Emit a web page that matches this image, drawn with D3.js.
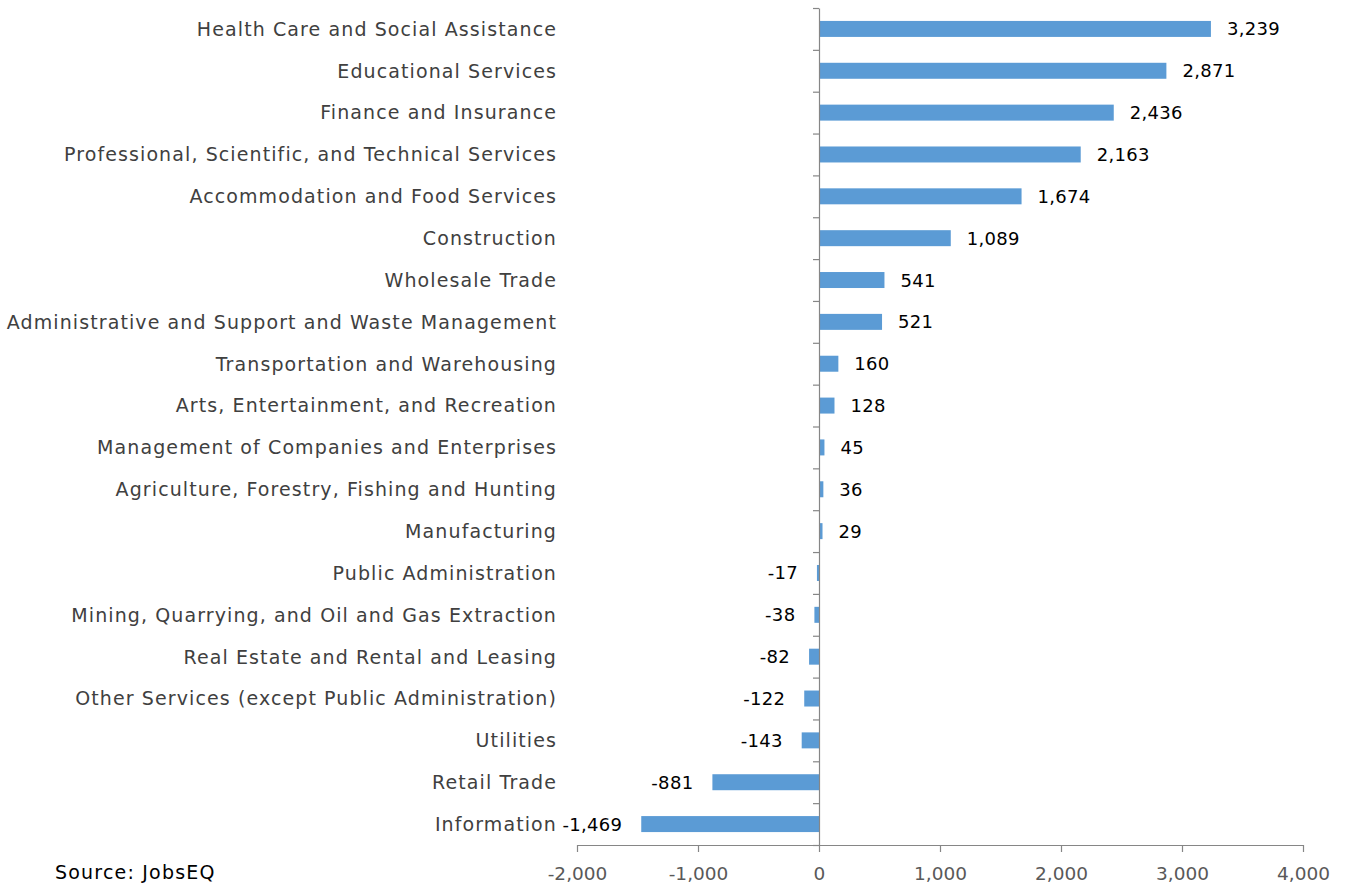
<!DOCTYPE html>
<html>
<head>
<meta charset="utf-8">
<script src="https://cdn.jsdelivr.net/npm/d3@7"></script>
<style>
  html, body { margin: 0; padding: 0; background: #ffffff; }
  svg { display: block; }
  text { font-family: "Century Gothic", "DejaVu Sans", sans-serif; }
</style>
</head>
<body>
<svg id="chart" width="1345" height="888"></svg>
<script>
// Employment change by industry
const industries = [
  "Health Care and Social Assistance",
  "Educational Services",
  "Finance and Insurance",
  "Professional, Scientific, and Technical Services",
  "Accommodation and Food Services",
  "Construction",
  "Wholesale Trade",
  "Administrative and Support and Waste Management",
  "Transportation and Warehousing",
  "Arts, Entertainment, and Recreation",
  "Management of Companies and Enterprises",
  "Agriculture, Forestry, Fishing and Hunting",
  "Manufacturing",
  "Public Administration",
  "Mining, Quarrying, and Oil and Gas Extraction",
  "Real Estate and Rental and Leasing",
  "Other Services (except Public Administration)",
  "Utilities",
  "Retail Trade",
  "Information"
];
const changes = [3239, 2871, 2436, 2163, 1674, 1089, 541, 521, 160, 128, 45, 36, 29, -17, -38, -82, -122, -143, -881, -1469];
const xTicks = [-2000, -1000, 0, 1000, 2000, 3000, 4000];
const sourceNote = "Source: JobsEQ";

const svg = d3.select("#chart");
const margin = { top: 8, right: 42, bottom: 43, left: 577 };
const W = 1345, H = 888;

const x = d3.scaleLinear().domain([-2000, 4000]).range([margin.left, W - margin.right]);
const y = d3.scaleBand().domain(industries).range([margin.top, H - margin.bottom])
  .paddingInner(0.618).paddingOuter(0.309);

// thousands separator with a plain hyphen for negatives
const comma = d3.format(",");
const fmt = v => comma(v).replace("\u2212", "-");
const rows = industries.map((name, i) => ({ name, value: changes[i] }));

// bars
svg.append("g").selectAll("rect").data(rows).join("rect")
  .attr("x", d => x(Math.min(0, d.value)))
  .attr("y", d => y(d.name))
  .attr("width", d => Math.abs(x(d.value) - x(0)))
  .attr("height", y.bandwidth())
  .attr("fill", "#5b9bd5");

// value labels
svg.append("g").selectAll("text").data(rows).join("text")
  .attr("x", d => d.value >= 0 ? x(d.value) + 16 : x(d.value) - 19)
  .attr("y", d => y(d.name) + y.bandwidth() / 2)
  .attr("dy", "0.36em")
  .attr("text-anchor", d => d.value >= 0 ? "start" : "end")
  .attr("font-size", 18)
  .attr("letter-spacing", 0.3)
  .attr("fill", "#000000")
  .text(d => fmt(d.value));

// category labels
svg.append("g").selectAll("text").data(rows).join("text")
  .attr("x", 557)
  .attr("y", d => y(d.name) + y.bandwidth() / 2)
  .attr("dy", "0.36em")
  .attr("text-anchor", "end")
  .attr("font-size", 19)
  .attr("letter-spacing", 1.1)
  .attr("fill", "#404040")
  .text(d => d.name);

// vertical zero line with category separators
const cats = d3.axisLeft(d3.scaleLinear().domain([0, industries.length]).range([margin.top, H - margin.bottom]))
  .tickValues(d3.range(0, industries.length + 1))
  .tickSize(6)
  .tickSizeOuter(0)
  .tickFormat("");
const gy = svg.append("g").attr("transform", `translate(${x(0)},0)`).call(cats);
gy.select(".domain").attr("stroke", "#868686").attr("stroke-width", 1.2);
gy.selectAll(".tick line").attr("stroke", "#868686").attr("stroke-width", 1.2);

// bottom value axis
const xa = d3.axisBottom(x).tickValues(xTicks).tickSize(7).tickSizeOuter(0).tickPadding(15)
  .tickFormat(fmt);
const gx = svg.append("g").attr("transform", `translate(0,${H - margin.bottom})`).call(xa);
gx.select(".domain").attr("stroke", "#868686").attr("stroke-width", 1.2);
gx.selectAll(".tick line").attr("stroke", "#868686").attr("stroke-width", 1.2);
gx.selectAll(".tick text").attr("font-size", 18.5).attr("fill", "#595959")
  .attr("font-family", "\"Century Gothic\", \"DejaVu Sans\", sans-serif");

// source note
svg.append("text").attr("x", 55).attr("y", 879)
  .attr("font-size", 19).attr("letter-spacing", 1.2).attr("fill", "#000000")
  .text(sourceNote);
</script>
</body>
</html>
